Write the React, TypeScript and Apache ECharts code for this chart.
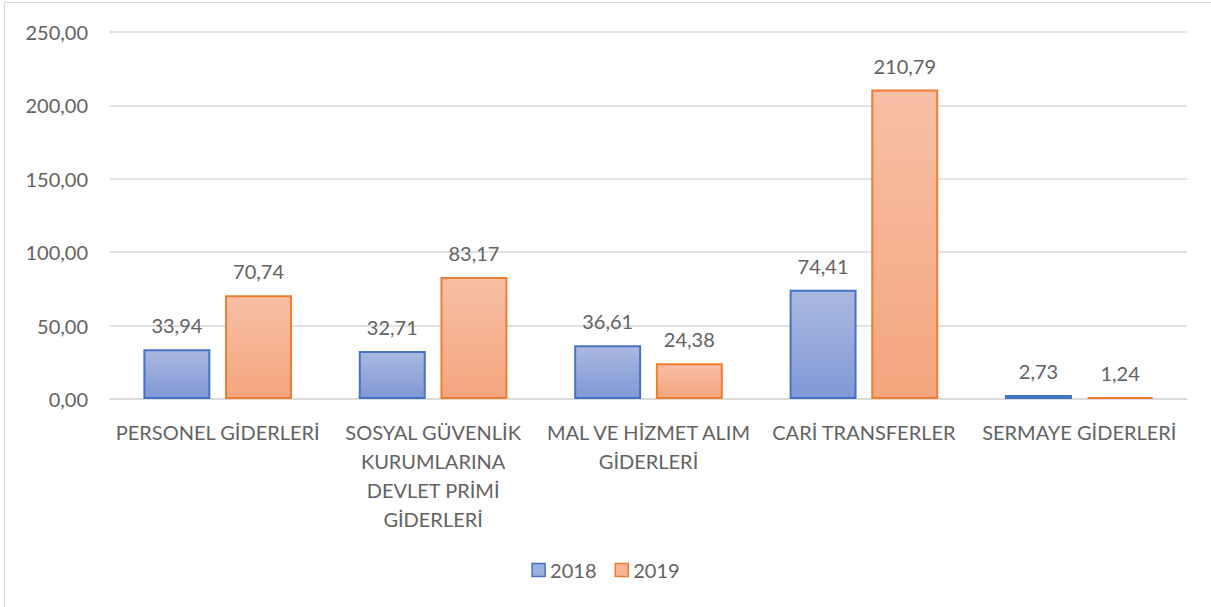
import React, { useEffect, useRef } from "react";
import * as echarts from "echarts";

const categories = [
  "PERSONEL GİDERLERİ",
  "SOSYAL GÜVENLİK\nKURUMLARINA\nDEVLET PRİMİ\nGİDERLERİ",
  "MAL VE HİZMET ALIM\nGİDERLERİ",
  "CARİ TRANSFERLER",
  "SERMAYE GİDERLERİ",
];
const seriesNames = ["2018", "2019"];
const values2018 = [33.94, 32.71, 36.61, 74.41, 2.73];
const values2019 = [70.74, 83.17, 24.38, 210.79, 1.24];

const FONT = "Lato";
const TEXT = "#626262";
const FS = 20;

const fmt = (v: number) => v.toFixed(2).replace(".", ",");

export default function App() {
  const ref = useRef<HTMLDivElement>(null);
  useEffect(() => {
    if (!ref.current) return;
    const chart = echarts.init(ref.current, null, { renderer: "svg" });
    const grad = (top: string, bottom: string) =>
      new echarts.graphic.LinearGradient(0, 0, 0, 1, [
        { offset: 0, color: top },
        { offset: 1, color: bottom },
      ]);
    const blue = grad("#abb9e1", "#8098d6");
    const orange = grad("#f7bfa6", "#f5a57d");
    const mk = (name: string, data: number[], fill: any, border: string) => ({
      name,
      type: "bar",
      data,
      barGap: "22%",
      barCategoryGap: "31%",
      itemStyle: { color: fill, borderColor: border, borderWidth: 2 },
      label: {
        show: true,
        position: "top",
        distance: 14,
        formatter: (p: any) => fmt(p.value),
        color: TEXT,
        fontFamily: FONT,
        fontSize: FS,
      },
    });
    chart.setOption({
      animation: false,
      backgroundColor: "#ffffff",
      graphic: [
        { type: "line", shape: { x1: 4.5, y1: 2, x2: 4.5, y2: 607 }, style: { stroke: "#d9d9d9", lineWidth: 1 } },
        { type: "line", shape: { x1: 4, y1: 2.5, x2: 1211, y2: 2.5 }, style: { stroke: "#d9d9d9", lineWidth: 1 } },
      ],
      grid: { left: 110, right: 24, top: 32, bottom: 208 },
      legend: {
        bottom: 22,
        left: "center",
        itemWidth: 13,
        itemHeight: 13,
        itemGap: 18,
        icon: "rect",
        textStyle: { color: TEXT, fontFamily: FONT, fontSize: FS },
        data: [
          { name: seriesNames[0], itemStyle: { color: "#9db0df", borderColor: "#4472c4", borderWidth: 1.5 } },
          { name: seriesNames[1], itemStyle: { color: "#f7b494", borderColor: "#ed7d31", borderWidth: 1.5 } },
        ],
      },
      xAxis: {
        type: "category",
        data: categories,
        axisLine: { lineStyle: { color: "#d9d9d9", width: 1.5 } },
        axisTick: { show: false },
        axisLabel: {
          interval: 0,
          color: TEXT,
          fontFamily: FONT,
          fontSize: FS,
          lineHeight: 29,
          margin: 18,
        },
      },
      yAxis: {
        type: "value",
        min: 0,
        max: 250,
        interval: 50,
        axisLine: { show: false },
        axisTick: { show: false },
        splitLine: { lineStyle: { color: "#d9d9d9", width: 1.5 } },
        axisLabel: {
          color: TEXT,
          fontFamily: FONT,
          fontSize: FS,
          margin: 22,
          formatter: (v: number) => fmt(v),
        },
      },
      series: [
        mk(seriesNames[0], values2018, blue, "#4472c4"),
        mk(seriesNames[1], values2019, orange, "#ed7d31"),
      ],
    });
    return () => chart.dispose();
  }, []);
  return (
    <div
      ref={ref}
      style={{ position: "fixed", left: 0, top: 0, width: 1211, height: 607 }}
    />
  );
}
